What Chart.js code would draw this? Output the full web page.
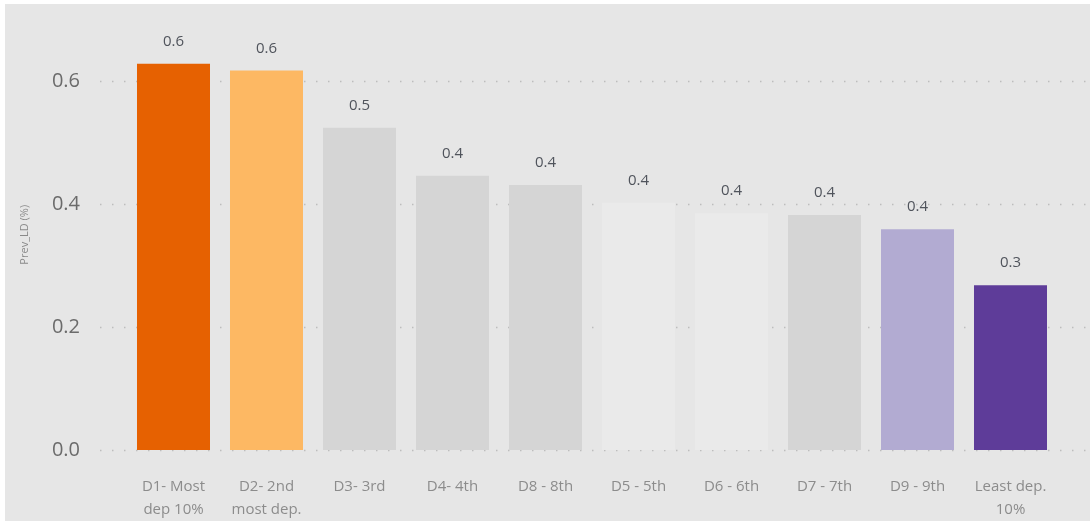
<!DOCTYPE html>
<html>
  <head>
    <meta charset="utf-8">
    <title>Prev_LD by deprivation decile</title>
    <style>
      html, body { margin: 0; padding: 0; background: #ffffff; }
      #wrap { position: absolute; left: 5px; top: 4px; width: 1085px; height: 517px; background: #e6e6e6; }
    </style>
  </head>
  <body>
    <div id="wrap">
      <canvas id="myChart" width="1085" height="517"></canvas>
    </div>
    <script src="https://cdn.jsdelivr.net/npm/chart.js@4.4.1/dist/chart.umd.min.js"></script>
    <script>
      // categories, in the order shown
      var deciles = [
        ['D1- Most', 'dep 10%'],
        ['D2- 2nd', 'most dep.'],
        'D3- 3rd',
        'D4- 4th',
        'D8 - 8th',
        'D5 - 5th',
        'D6 - 6th',
        'D7 - 7th',
        'D9 - 9th',
        ['Least dep.', '10%']
      ];
      // Prev_LD (%)
      var prevLD = [0.628, 0.617, 0.524, 0.446, 0.431, 0.402, 0.385, 0.382, 0.359, 0.268];
      var barColours = ['#e66101', '#fdb863', '#d5d5d5', '#d5d5d5', '#d5d5d5',
                        '#eaeaea', '#eaeaea', '#d5d5d5', '#b2abd2', '#5e3c99'];
      var yTicks = [0, 0.2, 0.4, 0.6];

      var ctx = document.getElementById('myChart');

      // dotted horizontal guides running past the plot edges, plus the y tick labels
      var dotGrid = {
        id: 'dotGrid',
        beforeDatasetsDraw: function(chart) {
          var c = chart.ctx, y = chart.scales.y;
          c.save();
          c.strokeStyle = '#bdbdbd';
          c.lineWidth = 1.5;
          c.setLineDash([1.5, 10.5]);
          c.font = '20px "Open Sans", sans-serif';
          c.fillStyle = '#6b6b6b';
          c.textAlign = 'right';
          c.textBaseline = 'middle';
          for (var i = 0; i < yTicks.length; i++) {
            var py = Math.round(y.getPixelForValue(yTicks[i])) + 0.5;
            c.beginPath();
            c.moveTo(95, py);
            c.lineTo(1082, py);
            c.stroke();
            c.fillText(yTicks[i].toFixed(1), 75, py);
          }
          c.restore();
        }
      };

      // value labels above each bar
      var barLabels = {
        id: 'barLabels',
        afterDatasetsDraw: function(chart) {
          var c = chart.ctx;
          var meta = chart.getDatasetMeta(0);
          c.save();
          c.font = '15px "Open Sans", sans-serif';
          c.fillStyle = '#50545c';
          c.textAlign = 'center';
          c.textBaseline = 'middle';
          meta.data.forEach(function(bar, i) {
            c.fillText(prevLD[i].toFixed(1), bar.x, bar.y - 22);
          });
          c.restore();
        }
      };

      new Chart(ctx, {
        type: 'bar',
        data: {
          labels: deciles,
          datasets: [{
            label: 'Prev_LD (%)',
            data: prevLD,
            backgroundColor: barColours,
            borderWidth: 0,
            barPercentage: 0.785,
            categoryPercentage: 1
          }]
        },
        options: {
          responsive: false,
          animation: false,
          layout: { padding: { top: 15.5, right: 33, left: 0, bottom: 0 } },
          plugins: {
            legend: { display: false },
            tooltip: { enabled: false }
          },
          scales: {
            x: {
              grid: { display: false },
              border: { display: false },
              afterFit: function(scale) { scale.height = 71; },
              ticks: {
                padding: 17,
                maxRotation: 0,
                autoSkip: false,
                color: '#8c8c8c',
                font: { family: 'Open Sans', size: 15, lineHeight: 1.55 }
              }
            },
            y: {
              min: 0,
              max: 0.7,
              grid: { display: false, drawTicks: false },
              border: { display: false },
              afterFit: function(scale) { scale.width = 122; },
              ticks: { display: false, stepSize: 0.1 },
              title: {
                display: true,
                text: 'Prev_LD (%)',
                color: '#8a8a8a',
                padding: { top: 13, bottom: 0 },
                font: { family: 'Open Sans', size: 11 }
              }
            }
          }
        },
        plugins: [dotGrid, barLabels]
      });
    </script>
  </body>
</html>
